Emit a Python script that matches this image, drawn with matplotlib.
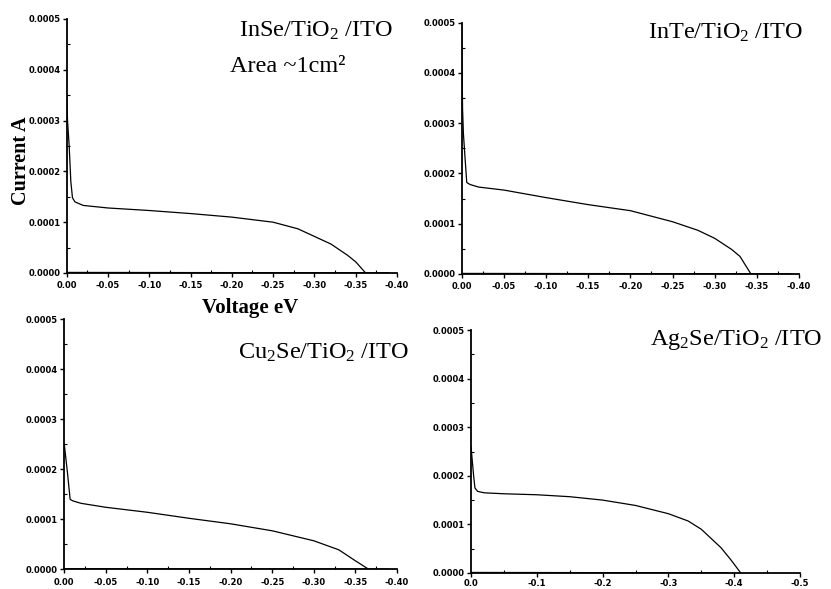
import numpy as np
import matplotlib.pyplot as plt
from matplotlib.ticker import MultipleLocator, FormatStrFormatter

plt.rcParams['mathtext.fontset'] = 'custom'
plt.rcParams['mathtext.rm'] = 'Liberation Serif'
plt.rcParams['mathtext.it'] = 'Liberation Serif:italic'
plt.rcParams['mathtext.bf'] = 'Liberation Serif:bold'

# InSe/TiO2/ITO
v_inse = [0.0, -0.001, -0.003, -0.005, -0.007, -0.01, -0.02, -0.05, -0.10, -0.15,
          -0.20, -0.25, -0.28, -0.30, -0.32, -0.33, -0.34, -0.35, -0.362]
i_inse = [3.5e-4, 3.0e-4, 2.5e-4, 1.8e-4, 1.48e-4, 1.40e-4, 1.33e-4, 1.28e-4, 1.23e-4, 1.17e-4,
          1.10e-4, 1.0e-4, 0.87e-4, 0.72e-4, 0.57e-4, 0.46e-4, 0.35e-4, 0.22e-4, 0.0]

# InTe/TiO2/ITO
v_inte = [0.0, -0.001, -0.002, -0.004, -0.006, -0.01, -0.02, -0.05, -0.10, -0.15,
          -0.20, -0.25, -0.28, -0.30, -0.32, -0.33, -0.343]
i_inte = [5.0e-4, 3.3e-4, 2.8e-4, 2.3e-4, 1.82e-4, 1.78e-4, 1.73e-4, 1.67e-4, 1.52e-4, 1.38e-4,
          1.26e-4, 1.04e-4, 0.87e-4, 0.71e-4, 0.49e-4, 0.35e-4, 0.0]

# Cu2Se/TiO2/ITO
v_cu2se = [0.0, -0.002, -0.004, -0.007, -0.01, -0.02, -0.05, -0.10, -0.15, -0.20,
           -0.25, -0.30, -0.33, -0.35, -0.366]
i_cu2se = [2.5e-4, 2.2e-4, 1.9e-4, 1.40e-4, 1.37e-4, 1.32e-4, 1.24e-4, 1.14e-4, 1.02e-4, 0.91e-4,
           0.77e-4, 0.57e-4, 0.39e-4, 0.17e-4, 0.0]

# Ag2Se/TiO2/ITO
v_ag2se = [0.0, -0.002, -0.004, -0.006, -0.01, -0.02, -0.05, -0.10, -0.15, -0.20,
           -0.25, -0.30, -0.33, -0.35, -0.38, -0.395, -0.41]
i_ag2se = [2.6e-4, 2.3e-4, 2.0e-4, 1.75e-4, 1.68e-4, 1.65e-4, 1.63e-4, 1.61e-4, 1.57e-4, 1.50e-4,
           1.39e-4, 1.22e-4, 1.07e-4, 0.90e-4, 0.52e-4, 0.27e-4, 0.0]

# dark current (close to zero)
v_dark = [0.0, -0.10, -0.20, -0.30, -0.39]
i_dark = [1.0e-6, 0.8e-6, 0.6e-6, 0.4e-6, 0.2e-6]

labels = ["InSe/TiO$_2$ /ITO", "InTe/TiO$_2$ /ITO",
          "Cu$_2$Se/TiO$_2$ /ITO", "Ag$_2$Se/TiO$_2$ /ITO"]

W, H = 831, 589
fig = plt.figure(figsize=(W / 100, H / 100), dpi=100)

def px_box(l, t, r, b):
    return [l / W, 1 - b / H, (r - l) / W, (b - t) / H]

boxes = [px_box(66.7, 19, 397, 273),
         px_box(461.7, 22.7, 799, 274),
         px_box(64.3, 319.3, 397, 569.3),
         px_box(471, 330, 800, 573)]
data = [(v_inse, i_inse), (v_inte, i_inte), (v_cu2se, i_cu2se), (v_ag2se, i_ag2se)]
xmins = [-0.40, -0.40, -0.40, -0.50]
# label anchor: right edge x, baseline y (pixels)
label_pos = [(393, 37), (803, 39), (409, 359), (822, 345)]

serif = 'Liberation Serif'
for k in range(4):
    ax = fig.add_axes(boxes[k])
    v, i = data[k]
    ax.plot(v, i, 'k-', lw=0.9)
    ax.plot(v_dark, i_dark, 'k-', lw=1.0)
    ax.set_xlim(0, xmins[k])
    ax.set_ylim(0, 0.0005)
    ax.spines['top'].set_visible(False)
    ax.spines['right'].set_visible(False)
    ax.spines['left'].set_linewidth(1.3)
    ax.spines['bottom'].set_linewidth(1.3)
    ax.yaxis.set_major_locator(MultipleLocator(0.0001))
    ax.yaxis.set_minor_locator(MultipleLocator(0.00005))
    ax.yaxis.set_major_formatter(FormatStrFormatter('%.4f'))
    if k == 3:
        ax.xaxis.set_major_locator(MultipleLocator(0.1))
        ax.xaxis.set_minor_locator(MultipleLocator(0.05))
        ax.xaxis.set_major_formatter(FormatStrFormatter('%.1f'))
    else:
        ax.xaxis.set_major_locator(MultipleLocator(0.05))
        ax.xaxis.set_minor_locator(MultipleLocator(0.025))
        ax.xaxis.set_major_formatter(FormatStrFormatter('%.2f'))
    ax.tick_params(which='major', direction='out', length=3, width=1, pad=1.5)
    ax.tick_params(axis='x', which='major', pad=3 if k < 3 else 1.5)
    ax.tick_params(which='minor', direction='in', length=2, width=0.8)
    for t in ax.get_xticklabels() + ax.get_yticklabels():
        t.set_fontsize(6)
        t.set_fontweight('bold')
    lx, ly = label_pos[k]
    fig.text(lx / W, 1 - ly / H, labels[k], ha='right', va='baseline',
             fontsize=17.5, family=serif)

fig.text(230 / W, 1 - 72 / H, "Area ~1cm²", ha='left', va='baseline',
         fontsize=17.5, family=serif)
fig.text(21 / W, 1 - 161 / H, "Current A", rotation=90, ha='center', va='center',
         fontsize=14.5, fontweight='bold', family=serif)
fig.text(250 / W, 1 - 313 / H, "Voltage eV", ha='center', va='baseline',
         fontsize=15, fontweight='bold', family=serif)

plt.savefig("out.png", dpi=100)
